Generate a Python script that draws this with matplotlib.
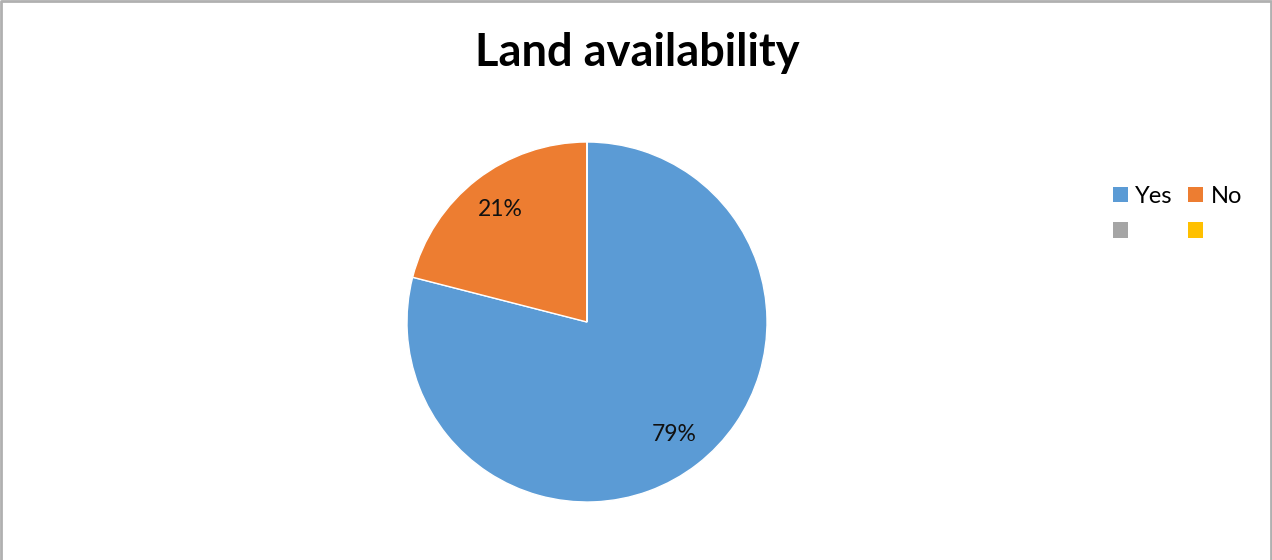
import matplotlib.pyplot as plt
from matplotlib.patches import Patch
from matplotlib.lines import Line2D

# Land availability survey
categories = ['Yes', 'No', '', '']
shares = [79, 21, 0, 0]
colors = ['#5B9BD5', '#ED7D31', '#A5A5A5', '#FFC000']

plt.rcParams['font.family'] = ['Lato', 'DejaVu Sans']

fig = plt.figure(figsize=(12.72, 5.6), dpi=100)

# pie area: centre at (587, 322) px, radius 180 px
ax = fig.add_axes([(587 - 180) / 1272, (560 - 502) / 560, 360 / 1272, 360 / 560])


def pct_label(p):
    return f'{p:.0f}%' if p > 0 else ''


wedges, texts, autotexts = ax.pie(
    shares, colors=colors, startangle=90, counterclock=False,
    autopct=pct_label, pctdistance=0.79,
    wedgeprops=dict(edgecolor='white', linewidth=1),
    textprops=dict(fontsize=16.5, color='#111111'))
ax.set_xlim(-1, 1)
ax.set_ylim(-1, 1)
ax.set_aspect('equal')

fig.text(637 / 1272, 1 - 53 / 560, 'Land availability', ha='center', va='center',
         fontsize=32.5, fontweight='bold')

# legend laid out row by row: Yes, No / blank, blank
handles = [Patch(facecolor=c, edgecolor='none') for c in colors]
order = [0, 2, 1, 3]
fig.legend([handles[i] for i in order], [categories[i] for i in order],
           ncol=2, loc='upper left', bbox_to_anchor=(1101 / 1272, 1 - 174 / 560),
           frameon=False, fontsize=17, handlelength=0.65, handleheight=0.65,
           handletextpad=0.3, columnspacing=0.65, labelspacing=0.6, borderpad=0)

# grey frame on left, top and right edges
frame = dict(transform=fig.transFigure, color='#B0B0B0', linewidth=2)
fig.lines.append(Line2D([0.001, 0.001, 0.999, 0.999], [0, 0.998, 0.998, 0], **frame))

fig.savefig('out.png', dpi=100)
